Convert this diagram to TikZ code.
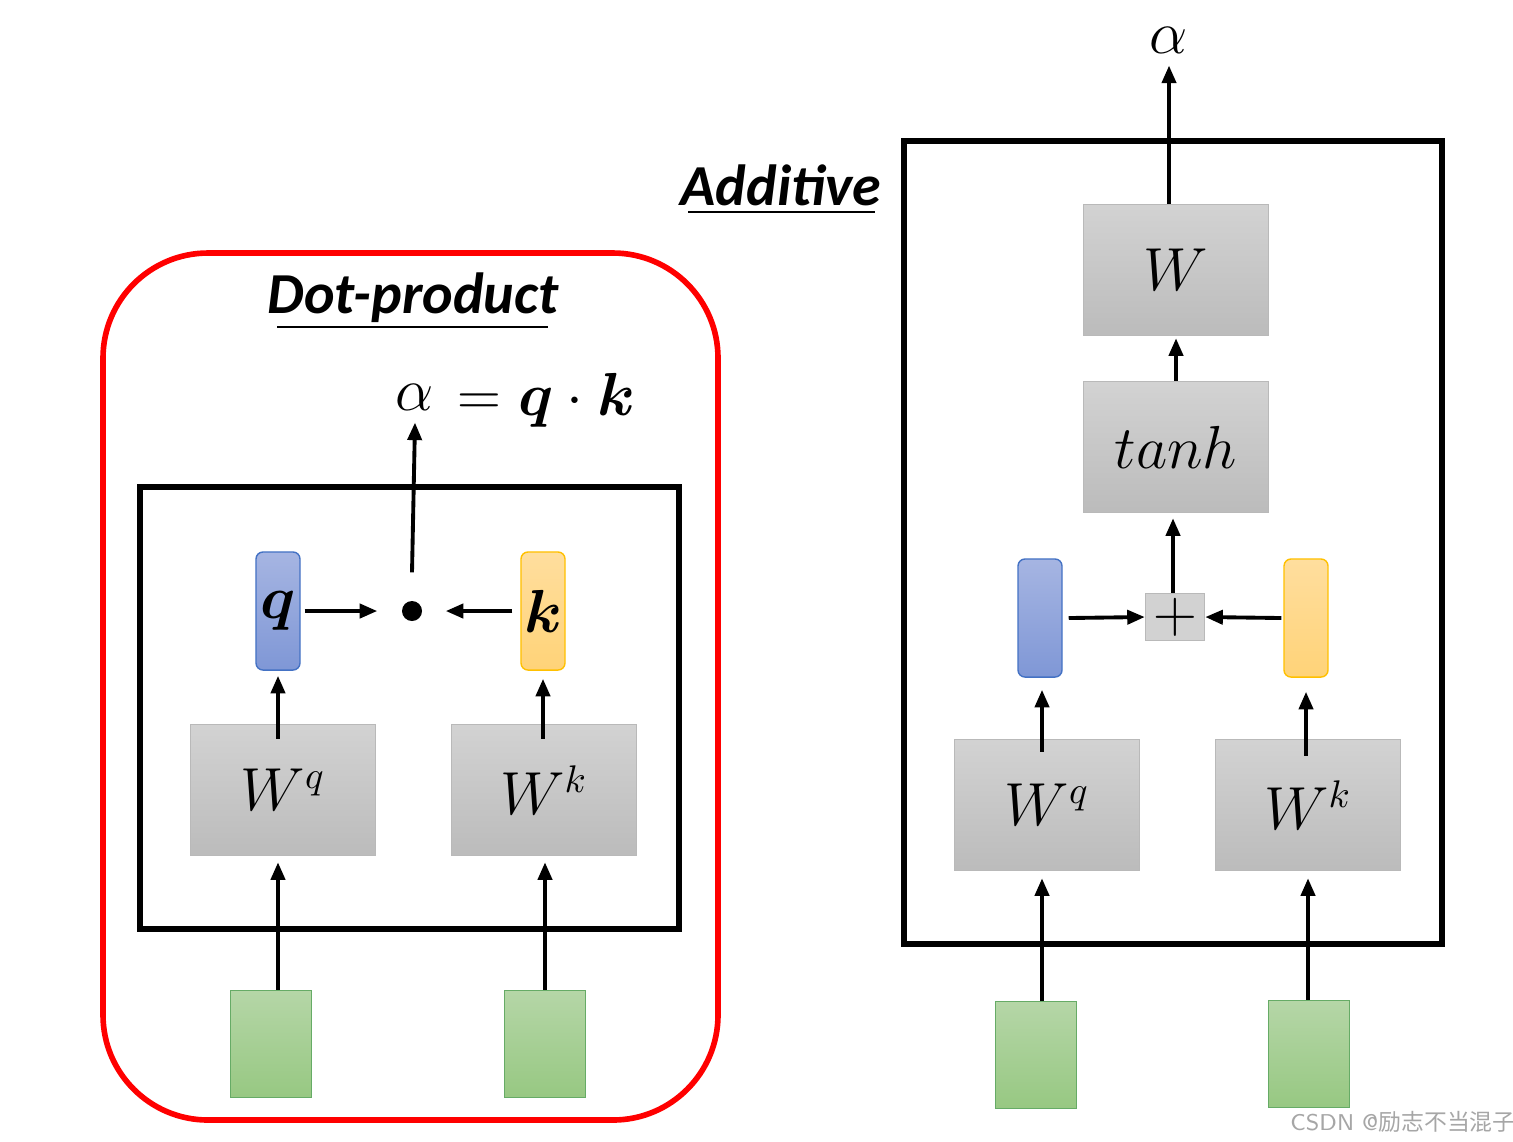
\documentclass[tikz,border=0pt]{standalone}
\usepackage{amsmath}
\usepackage{bm}
\usepackage{fontspec}
\newfontfamily\titlefont{Carlito}
\newfontfamily\cjk{Noto Sans CJK SC}
\usetikzlibrary{arrows.meta}

\tikzset{
	wbox/.style={draw=gray!55, top color=gray!35, bottom color=gray!53, minimum width=1.85cm, minimum height=1.31cm, font=\fontsize{16}{18}\selectfont},
	inbox/.style={draw=green!45!black!60, top color={rgb,255:red,181;green,214;blue,167}, bottom color={rgb,255:red,151;green,200;blue,130}, minimum width=0.81cm, minimum height=1.07cm},
	qvec/.style={draw={rgb,255:red,68;green,114;blue,196}, rounded corners=2pt, top color={rgb,255:red,166;green,181;blue,226}, bottom color={rgb,255:red,127;green,151;blue,214}, minimum width=0.44cm, minimum height=1.18cm, inner sep=0pt},
	kvec/.style={draw={rgb,255:red,255;green,192;blue,0}, rounded corners=2pt, top color={rgb,255:red,255;green,222;blue,158}, bottom color={rgb,255:red,255;green,211;blue,120}, minimum width=0.44cm, minimum height=1.18cm, inner sep=0pt},
	arr/.style={-{Triangle[length=5pt,width=4pt]}, line width=1.1pt},
	title/.style={font=\titlefont\fontsize{16.5}{18}\selectfont\bfseries\itshape}
}

\begin{document}
\begin{tikzpicture}[x=0.01cm,y=-0.01cm]
	\useasboundingbox (0,0) rectangle (1513,1141);
	%% dot-product
	\draw[red, line width=1.6pt, rounded corners=1.05cm] (103,253) rectangle (718,1120);
	\node[title] (dottitle) at (413,298) {Dot-product};
	\draw[line width=0.5pt] (277,327)--(548,327);
	\draw[line width=1.8pt] (140,487) rectangle (679,929);
	\node[font=\fontsize{16}{18}\selectfont] (alpha1) at (415,397) {$\alpha$};
	\node[font=\fontsize{16}{18}\selectfont, anchor=west] (eq) at (445,400) {$=\bm{q}\cdot\bm{k}$};
	\node[qvec] (q) at (278,611) {};
	\node[font=\fontsize{19}{21}\selectfont] at (q) {$\bm{q}$};
	\node[kvec] (k) at (543,611) {};
	\node[font=\fontsize{19}{21}\selectfont] at (k) {$\bm{k}$};
	\node[circle, fill, inner sep=0pt, minimum size=0.2cm] (dot) at (412,611) {};
	\node[wbox] (wq1) at (283,790) {$W^{q}$};
	\node[wbox] (wk1) at (544,790) {$W^{k}$};
	\node[inbox] (x1) at (271,1044) {};
	\node[inbox] (x2) at (545,1044) {};
	\draw[arr] ([xshift=0.04cm]q.east) -- ([xshift=-0.24cm]dot.west);
	\draw[arr] ([xshift=-0.08cm]k.west) -- ([xshift=0.23cm]dot.east);
	\draw[arr] ([yshift=0.28cm]dot.north) -- (alpha1.south);
	\draw[arr] ([yshift=-0.15cm]wq1.north -| q.south) -- ([yshift=-0.05cm]q.south);
	\draw[arr] ([yshift=-0.15cm]wk1.north -| k.south) -- ([yshift=-0.08cm]k.south);
	\draw[arr] (x1.north -| 278,0) -- ([yshift=-0.06cm]wq1.south -| 278,0);
	\draw[arr] (x2.north) -- ([yshift=-0.06cm]wk1.south -| x2.north);
	%% additive
	\node[title] (addtitle) at (781,185) {Additive};
	\draw[line width=0.5pt] (688,212)--(875,212);
	\draw[line width=1.8pt] (904,141) rectangle (1442,944);
	\node[font=\fontsize{16}{18}\selectfont] (alpha2) at (1169,40) {$\alpha$};
	\node[wbox] (w) at (1176,270) {$W$};
	\node[wbox] (tanh) at (1176,447) {$tanh$};
	\node[draw=gray!55, fill=gray!35, minimum width=0.59cm, minimum height=0.47cm, inner sep=0pt, font=\fontsize{16}{18}\selectfont] (plus) at (1175,617) {$+$};
	\node[qvec] (q2) at (1040,618) {};
	\node[kvec] (k2) at (1306,618) {};
	\node[wbox] (wq2) at (1047,805) {$W^{q}$};
	\node[wbox] (wk2) at (1308,805) {$W^{k}$};
	\node[inbox] (x3) at (1036,1055) {};
	\node[inbox] (x4) at (1309,1054) {};
	\draw[arr] (w.north -| alpha2) -- (alpha2.south);
	\draw[arr] (tanh.north) -- ([yshift=-0.02cm]w.south);
	\draw[arr] (plus.north -| 1173,0) -- ([yshift=-0.05cm]tanh.south -| 1173,0);
	\draw[arr] ([xshift=0.06cm]q2.east) -- (plus.west);
	\draw[arr] ([xshift=-0.02cm]k2.west) -- (plus.east);
	\draw[arr] ([yshift=-0.13cm]wq2.north -| 1042,0) -- ([yshift=-0.12cm]q2.south -| 1042,0);
	\draw[arr] ([yshift=-0.17cm]wk2.north -| k2.south) -- ([yshift=-0.14cm]k2.south);
	\draw[arr] (x3.north -| 1042,0) -- ([yshift=-0.07cm]wq2.south -| 1042,0);
	\draw[arr] (x4.north -| 1308,0) -- ([yshift=-0.07cm]wk2.south -| 1308,0);
	\node[text=gray!70, font=\fontsize{6.5}{7}\sffamily] (mark) at (1403,1122) {CSDN @{\cjk 励志不当混子}};
\end{tikzpicture}
\end{document}
